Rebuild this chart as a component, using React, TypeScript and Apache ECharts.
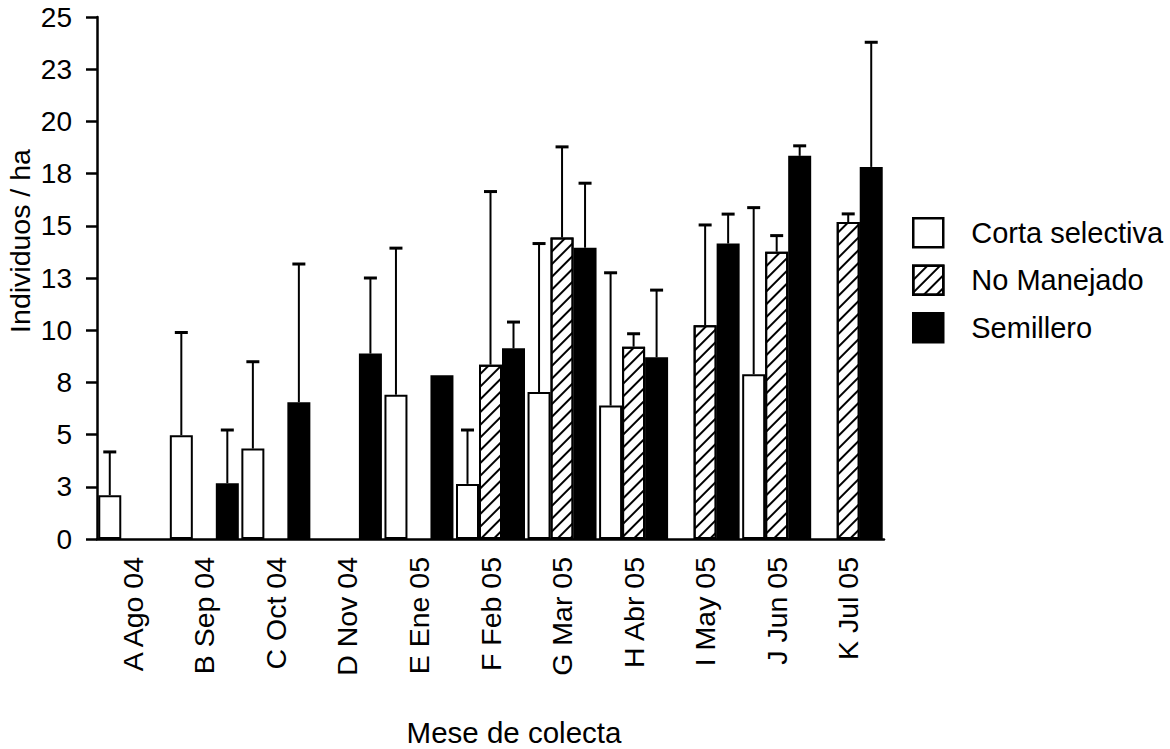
import React, { useEffect, useRef } from "react";
import * as echarts from "echarts";

const categories = [
  "A Ago 04", "B Sep 04", "C Oct 04", "D Nov 04", "E Ene 05", "F Feb 05",
  "G Mar 05", "H Abr 05", "I May 05", "J Jun 05", "K Jul 05",
];
const seriesNames = ["Corta selectiva", "No Manejado", "Semillero"];

// means
const cortaSelectiva = [2.1, 4.97, 4.33, null, 6.91, 2.64, 7.04, 6.39, null, 7.89, null];
const noManejado = [null, null, null, null, null, 8.35, 14.44, 9.21, 10.24, 13.76, 15.18];
const semillero = [null, 2.67, 6.55, 8.88, 7.84, 9.13, 13.95, 8.7, 14.15, 18.35, 17.82];

// upper error (SD)
const cortaSelectivaErr = [2.07, 4.92, 4.16, null, 7.02, 2.58, 7.11, 6.36, null, 7.98, null];
const noManejadoErr = [null, null, null, null, null, 8.29, 4.34, 0.62, 4.8, 0.77, 0.39];
const semilleroErr = [null, 2.55, 6.62, 3.62, null, 1.26, 3.09, 3.22, 1.41, 0.48, 5.97];

const yTicks = { min: 0, max: 25, interval: 2.5 };

const FONT = "'Liberation Sans', Arial, Helvetica, sans-serif";
const BAR_W = 23;

export default function App() {
  const ref = useRef<HTMLDivElement>(null);
  useEffect(() => {
    if (!ref.current) return;
    const chart = echarts.init(ref.current, null, { renderer: "svg" });
    const means = [cortaSelectiva, noManejado, semillero];
    const errs = [cortaSelectivaErr, noManejadoErr, semilleroErr];
    const fills = ["#ffffff", "#ffffff", "#000000"];

    const barSeries = means.map((m, i) => ({
      name: seriesNames[i],
      type: "bar",
      barWidth: BAR_W,
      barGap: "0%",
      z: 3,
      data: m.map((v) => (v == null ? "-" : v)),
      itemStyle: {
        color: fills[i],
        borderColor: "#000",
        borderWidth: 2,
        decal:
          i === 1
            ? {
                symbol: "rect",
                symbolSize: 1,
                color: "#000",
                dashArrayX: [1, 0],
                dashArrayY: [1.6, 6.2],
                rotation: -Math.PI / 4,
              }
            : undefined,
      },
    }));

    const errSeries = means.map((m, i) => ({
      name: "err" + i,
      type: "custom",
      z: 2,
      data: m
        .map((v, k) => (v == null || errs[i][k] == null ? null : [k, v, v + (errs[i][k] as number)]))
        .filter((d) => d != null),
      encode: { x: 0, y: [1, 2] },
      renderItem: (params: any, api: any) => {
        const x = api.value(0);
        const p0 = api.coord([x, api.value(1)]);
        const p1 = api.coord([x, api.value(2)]);
        const cx = p0[0] + (i - 1) * BAR_W;
        return {
          type: "group",
          children: [
            {
              type: "line",
              shape: { x1: cx, y1: p0[1], x2: cx, y2: p1[1] },
              style: { stroke: "#000", lineWidth: 2 },
            },
            {
              type: "line",
              shape: { x1: cx - 6.5, y1: p1[1], x2: cx + 6.5, y2: p1[1] },
              style: { stroke: "#000", lineWidth: 3 },
            },
          ],
        };
      },
    }));

    chart.setOption({
      animation: false,
      backgroundColor: "#fff",
      textStyle: { fontFamily: FONT, color: "#000" },
      grid: { left: 97, top: 17, width: 787, height: 522, containLabel: false },
      legend: {
        data: seriesNames,
        orient: "vertical",
        left: 912,
        top: 217,
        padding: 0,
        itemWidth: 30,
        itemHeight: 29,
        itemGap: 16,
        icon: "rect",
        textStyle: {
          fontSize: 29,
          lineHeight: 29,
          fontFamily: FONT,
          color: "#000",
          padding: [0, 0, 0, 23],
        },
        itemStyle: { borderColor: "#000", borderWidth: 2.5 },
      },
      xAxis: {
        type: "category",
        data: categories,
        axisLine: { lineStyle: { color: "#000", width: 2.5 } },
        axisTick: { alignWithLabel: true, length: 8, lineStyle: { color: "#000", width: 2.5 } },
        axisLabel: { rotate: 90, fontSize: 28.5, fontFamily: FONT, color: "#000", margin: 18 },
      },
      yAxis: {
        type: "value",
        min: yTicks.min,
        max: yTicks.max,
        interval: yTicks.interval,
        splitLine: { show: false },
        axisLine: { show: true, lineStyle: { color: "#000", width: 2.5 } },
        axisTick: { show: true, length: 11, lineStyle: { color: "#000", width: 2.5 } },
        axisLabel: {
          fontSize: 28,
          fontFamily: FONT,
          color: "#000",
          margin: 25,
          formatter: (v: number) => String(Math.round(v)),
        },
      },
      graphic: [
        {
          type: "text",
          x: 20,
          y: 241,
          rotation: Math.PI / 2,
          style: {
            text: "Individuos / ha",
            fontSize: 28.5,
            fontFamily: FONT,
            fill: "#000",
            align: "center",
            verticalAlign: "middle",
          },
        },
        {
          type: "text",
          x: 514,
          y: 732,
          style: {
            text: "Mese de colecta",
            fontSize: 29.5,
            fontFamily: FONT,
            fill: "#000",
            align: "center",
            verticalAlign: "middle",
          },
        },
      ],
      series: [...errSeries, ...barSeries],
    });
    return () => chart.dispose();
  }, []);
  return (
    <div
      ref={ref}
      style={{ position: "fixed", left: 0, top: 0, width: 1170, height: 749, background: "#fff" }}
    />
  );
}
